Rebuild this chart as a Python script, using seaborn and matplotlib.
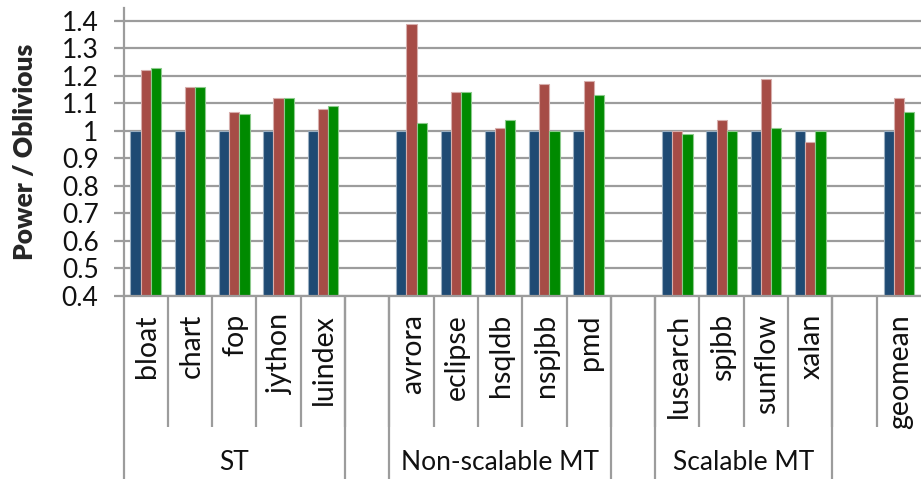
import numpy as np
import pandas as pd
import matplotlib
matplotlib.use("Agg")
import matplotlib.pyplot as plt
import matplotlib.colors as mcolors
from matplotlib.transforms import blended_transform_factory
import seaborn as sns

# Benchmarks grouped by workload type
st_benchmarks = ["bloat", "chart", "fop", "jython", "luindex"]
nsmt_benchmarks = ["avrora", "eclipse", "hsqldb", "nspjbb", "pmd"]
smt_benchmarks = ["lusearch", "spjbb", "sunflow", "xalan"]
summary = ["geomean"]
group_names = ["ST", "Non-scalable MT", "Scalable MT"]

benchmarks = st_benchmarks + nsmt_benchmarks + smt_benchmarks + summary

# Power normalised to the oblivious configuration
oblivious = [1.00, 1.00, 1.00, 1.00, 1.00,
             1.00, 1.00, 1.00, 1.00, 1.00,
             1.00, 1.00, 1.00, 1.00,
             1.00]
variant_1 = [1.22, 1.16, 1.07, 1.12, 1.08,
             1.39, 1.14, 1.01, 1.17, 1.18,
             1.00, 1.04, 1.19, 0.96,
             1.12]
variant_2 = [1.23, 1.16, 1.06, 1.12, 1.09,
             1.03, 1.14, 1.04, 1.00, 1.13,
             0.99, 1.00, 1.01, 1.00,
             1.07]
series_names = ["Oblivious", "Variant 1", "Variant 2"]
colors = ["#1F4A73", "#A64C46", "#008A00"]

y_ticks = [0.4, 0.5, 0.6, 0.7, 0.8, 0.9, 1.0, 1.1, 1.2, 1.3, 1.4]

df = pd.DataFrame({
    "benchmark": benchmarks * 3,
    "value": oblivious + variant_1 + variant_2,
    "config": [s for s in series_names for _ in benchmarks],
})

# Slot order on the x axis, with empty spacer slots between groups
gaps = [" ", "  ", "   "]
order = st_benchmarks + [gaps[0]] + nsmt_benchmarks + [gaps[1]] + smt_benchmarks + [gaps[2]] + summary
groups = [st_benchmarks, nsmt_benchmarks, smt_benchmarks]

sns.set_theme(style="white")
plt.rcParams["font.family"] = ["Lato", "DejaVu Sans"]

W, H = 921, 479
fig = plt.figure(figsize=(W / 100, H / 100), dpi=100)
ax_left, ax_top, ax_bottom = 123.5, 8, 296
ax = fig.add_axes([ax_left / W, 1 - ax_bottom / H, 1 - ax_left / W, (ax_bottom - ax_top) / H])

sns.barplot(data=df, x="benchmark", y="value", hue="config", order=order,
            hue_order=series_names, palette=colors, width=0.69, saturation=1,
            legend=False, ax=ax, errorbar=None)

for p in ax.patches:
    fc = np.array(mcolors.to_rgb(p.get_facecolor()))
    p.set_edgecolor(tuple(fc + (1 - fc) * 0.55))
    p.set_linewidth(0.8)

grid_c = "#9c9c9c"
txt_c = "#111111"
ax.set_ylim(0.4, 1.447)
ax.set_xlim(-0.5, len(order) - 0.5)
ax.set_yticks(y_ticks)
ax.set_yticklabels([f"{v:g}" for v in y_ticks], fontsize=19, color=txt_c)
ax.yaxis.grid(True, color=grid_c, linewidth=1.6)
ax.set_axisbelow(True)
ax.tick_params(axis="y", length=7, width=1.6, color=grid_c, direction="out", pad=11, left=True)
ax.tick_params(axis="x", length=0, labelbottom=False)
ax.set_xlabel("")
ax.set_ylabel("Power / Oblivious", fontsize=19, fontweight="heavy", labelpad=18)
for side in ["top", "right"]:
    ax.spines[side].set_visible(False)
for side in ["left", "bottom"]:
    ax.spines[side].set_color(grid_c)
    ax.spines[side].set_linewidth(1.6)

trans = blended_transform_factory(ax.transData, fig.transFigure)

def fy(px):
    return 1 - px / H

# Benchmark names below the axis
for i, name in enumerate(order):
    if name.strip():
        ax.text(i + 0.03, fy(314), name, transform=trans, rotation=90, ha="center", va="top",
                fontsize=20.5, color=txt_c)

# Separators between benchmark slots
for i in range(len(order) - 1):
    ax.plot([i + 0.5, i + 0.5], [fy(ax_bottom), fy(427)], transform=trans,
            color=grid_c, linewidth=1.6, clip_on=False, solid_capstyle="butt")

# Group labels and their boundaries
bounds = [-0.5]
for gname, members in zip(group_names, groups):
    start = order.index(members[0])
    end = order.index(members[-1])
    bounds += [start - 0.5, end + 0.5]
    ax.text((start + end) / 2, fy(463), gname, transform=trans, ha="center", va="center",
            fontsize=19, color=txt_c)
for b in sorted(set(bounds)):
    ax.plot([b, b], [fy(ax_bottom), fy(H)], transform=trans,
            color=grid_c, linewidth=1.6, clip_on=False, solid_capstyle="butt")

fig.savefig("out.png", dpi=100)
